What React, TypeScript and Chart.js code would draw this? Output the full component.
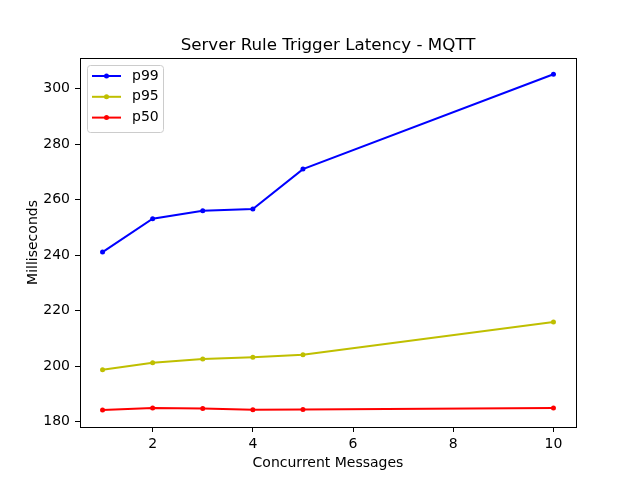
import React, { useEffect, useRef } from "react";
import { Chart, registerables } from "chart.js";

Chart.register(...registerables);

const xValues = [1, 2, 3, 4, 5, 10];
const p99 = [241.1, 253.1, 256.0, 256.6, 271.0, 305.2];
const p95 = [198.7, 201.2, 202.6, 203.2, 204.1, 215.9];
const p50 = [184.2, 184.9, 184.7, 184.3, 184.4, 184.9];
const xTicks = [2, 4, 6, 8, 10];
const yTicks = [180, 200, 220, 240, 260, 280, 300];
const seriesNames = ["p99", "p95", "p50"];
const seriesColors = ["#0000ff", "#bfbf00", "#ff0000"];
const titleText = "Server Rule Trigger Latency - MQTT";
const xLabel = "Concurrent Messages";
const yLabel = "Milliseconds";

const FONT = "'DejaVu Sans', sans-serif";

const framePlugin = {
  id: "frameTitleLegend",
  afterDraw(chart: any) {
    const ctx = chart.ctx;
    const a = chart.chartArea;
    ctx.save();
    // frame
    ctx.strokeStyle = "#000000";
    ctx.lineWidth = 1;
    ctx.strokeRect(Math.round(a.left) + 0.5, Math.round(a.top) + 0.5, Math.round(a.right - a.left), Math.round(a.bottom - a.top));
    // title
    ctx.fillStyle = "#000000";
    ctx.font = `16.7px ${FONT}`;
    ctx.textAlign = "center";
    ctx.textBaseline = "alphabetic";
    ctx.fillText(titleText, (a.left + a.right) / 2, 50);
    // legend
    const bx = a.left + 7.5;
    const by = a.top + 7.5;
    const bw = 76;
    const bh = 67;
    const r = 3;
    ctx.beginPath();
    ctx.moveTo(bx + r, by);
    ctx.lineTo(bx + bw - r, by);
    ctx.arcTo(bx + bw, by, bx + bw, by + r, r);
    ctx.lineTo(bx + bw, by + bh - r);
    ctx.arcTo(bx + bw, by + bh, bx + bw - r, by + bh, r);
    ctx.lineTo(bx + r, by + bh);
    ctx.arcTo(bx, by + bh, bx, by + bh - r, r);
    ctx.lineTo(bx, by + r);
    ctx.arcTo(bx, by, bx + r, by, r);
    ctx.closePath();
    ctx.fillStyle = "rgba(255,255,255,0.8)";
    ctx.fill();
    ctx.strokeStyle = "#cccccc";
    ctx.lineWidth = 1;
    ctx.stroke();
    chart.data.datasets.forEach((ds: any, i: number) => {
      const ly = a.top + 18 + i * 20.8;
      ctx.strokeStyle = ds.borderColor;
      ctx.lineWidth = 2;
      ctx.beginPath();
      ctx.moveTo(a.left + 12, ly);
      ctx.lineTo(a.left + 41, ly);
      ctx.stroke();
      ctx.fillStyle = ds.borderColor;
      ctx.beginPath();
      ctx.arc(a.left + 26.5, ly, 2.5, 0, Math.PI * 2);
      ctx.fill();
      ctx.fillStyle = "#000000";
      ctx.font = `14px ${FONT}`;
      ctx.textAlign = "left";
      ctx.textBaseline = "middle";
      ctx.fillText(ds.label, a.left + 52, ly);
    });
    ctx.restore();
  },
};

export default function App() {
  const ref = useRef<HTMLCanvasElement | null>(null);
  useEffect(() => {
    if (!ref.current) return;
    const allSeries = [p99, p95, p50];
    const chart = new Chart(ref.current, {
      type: "line",
      data: {
        datasets: allSeries.map((s, i) => ({
          label: seriesNames[i],
          data: xValues.map((x, j) => ({ x, y: s[j] })),
          borderColor: seriesColors[i],
          backgroundColor: seriesColors[i],
          borderWidth: 2,
          pointRadius: 2.5,
          pointBorderWidth: 0,
          pointBackgroundColor: seriesColors[i],
          tension: 0,
          fill: false,
        })),
      },
      options: {
        responsive: false,
        animation: false,
        events: [],
        layout: { padding: { top: 58, right: 64, left: 0, bottom: 0 } },
        plugins: {
          legend: { display: false },
          title: { display: false },
          tooltip: { enabled: false },
        },
        scales: {
          x: {
            type: "linear",
            min: 0.55,
            max: 10.45,
            afterBuildTicks: (scale: any) => {
              scale.ticks = xTicks.map((v) => ({ value: v }));
            },
            afterFit: (scale: any) => {
              scale.height = 53;
            },
            border: { display: false },
            grid: {
              display: true,
              drawOnChartArea: false,
              drawTicks: true,
              tickLength: 5,
              tickColor: "#000000",
              lineWidth: 1,
            },
            ticks: {
              color: "#000000",
              padding: 4,
              maxRotation: 0,
              autoSkip: false,
              font: { family: FONT, size: 14 },
            },
            title: {
              display: true,
              text: xLabel,
              color: "#000000",
              font: { family: FONT, size: 14 },
              padding: { top: 0, bottom: 8 },
            },
          },
          y: {
            type: "linear",
            min: 178.05,
            max: 311.05,
            afterBuildTicks: (scale: any) => {
              scale.ticks = yTicks.map((v) => ({ value: v }));
            },
            afterFit: (scale: any) => {
              scale.width = 80;
            },
            border: { display: false },
            grid: {
              display: true,
              drawOnChartArea: false,
              drawTicks: true,
              tickLength: 5,
              tickColor: "#000000",
              lineWidth: 1,
            },
            ticks: {
              color: "#000000",
              padding: 5,
              autoSkip: false,
              font: { family: FONT, size: 14 },
            },
            title: {
              display: true,
              text: yLabel,
              color: "#000000",
              font: { family: FONT, size: 14 },
              padding: { top: 25, bottom: 0 },
            },
          },
        },
      },
      plugins: [framePlugin],
    } as any);
    return () => chart.destroy();
  }, []);
  return (
    <div style={{ position: "fixed", left: 0, top: 0, width: 640, height: 480, background: "#ffffff" }}>
      <canvas ref={ref} width={640} height={480} style={{ display: "block", width: 640, height: 480 }} />
    </div>
  );
}
